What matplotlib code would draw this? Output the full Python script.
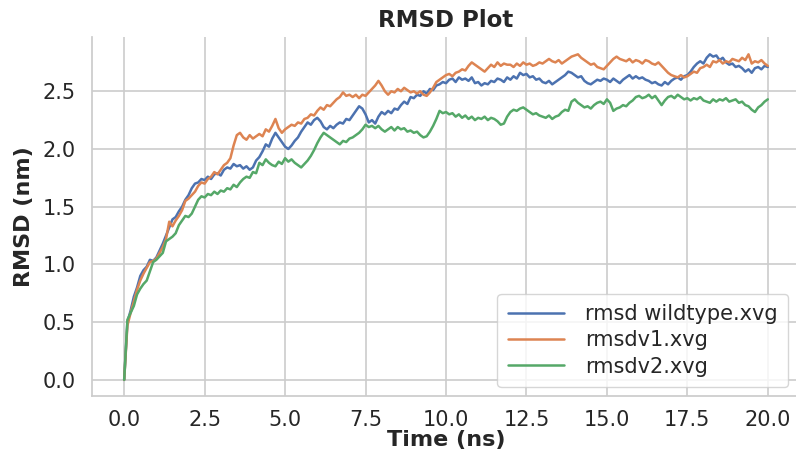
import numpy as np
import matplotlib
matplotlib.use("Agg")
import matplotlib.pyplot as plt
import seaborn as sns

time_ns = np.round(np.arange(201) * 0.1, 1)

rmsd_wildtype = [
    0.00, 0.50, 0.60, 0.72, 0.80, 0.90, 0.95, 0.98, 1.04, 1.03,
    1.06, 1.12, 1.18, 1.25, 1.32, 1.39, 1.41, 1.46, 1.50, 1.56,
    1.60, 1.66, 1.70, 1.71, 1.74, 1.73, 1.76, 1.74, 1.78, 1.79,
    1.77, 1.82, 1.84, 1.83, 1.87, 1.85, 1.86, 1.83, 1.85, 1.82,
    1.84, 1.90, 1.93, 1.98, 2.04, 2.02, 2.09, 2.14, 2.10, 2.06,
    2.02, 2.00, 2.03, 2.07, 2.10, 2.15, 2.19, 2.23, 2.21, 2.25,
    2.27, 2.24, 2.19, 2.17, 2.20, 2.18, 2.21, 2.23, 2.22, 2.26,
    2.25, 2.29, 2.33, 2.37, 2.35, 2.30, 2.23, 2.25, 2.22, 2.28,
    2.32, 2.30, 2.33, 2.31, 2.35, 2.34, 2.38, 2.41, 2.39, 2.45,
    2.44, 2.47, 2.46, 2.50, 2.48, 2.52, 2.51, 2.55, 2.56, 2.58,
    2.57, 2.60, 2.61, 2.58, 2.62, 2.60, 2.61, 2.59, 2.62, 2.57,
    2.58, 2.55, 2.57, 2.56, 2.59, 2.58, 2.61, 2.60, 2.58, 2.62,
    2.60, 2.63, 2.61, 2.66, 2.64, 2.65, 2.62, 2.63, 2.60, 2.61,
    2.58, 2.57, 2.59, 2.56, 2.58, 2.60, 2.62, 2.64, 2.67, 2.66,
    2.64, 2.62, 2.63, 2.59, 2.57, 2.56, 2.58, 2.60, 2.59, 2.61,
    2.60, 2.58, 2.61, 2.59, 2.57, 2.60, 2.62, 2.64, 2.61, 2.63,
    2.61, 2.62, 2.60, 2.59, 2.57, 2.58, 2.56, 2.55, 2.58, 2.56,
    2.59, 2.61, 2.62, 2.60, 2.63, 2.64, 2.67, 2.71, 2.74, 2.76,
    2.74, 2.79, 2.82, 2.80, 2.81, 2.77, 2.79, 2.75, 2.73, 2.74,
    2.71, 2.72, 2.70, 2.67, 2.69, 2.66, 2.70, 2.71, 2.69, 2.72,
    2.71,
]

rmsd_v1 = [
    0.00, 0.47, 0.58, 0.68, 0.78, 0.86, 0.92, 0.97, 1.02, 1.03,
    1.05, 1.10, 1.15, 1.22, 1.37, 1.33, 1.38, 1.42, 1.47, 1.55,
    1.57, 1.60, 1.63, 1.68, 1.71, 1.70, 1.74, 1.76, 1.80, 1.78,
    1.82, 1.86, 1.88, 1.92, 2.03, 2.12, 2.14, 2.10, 2.08, 2.12,
    2.09, 2.11, 2.13, 2.11, 2.17, 2.15, 2.20, 2.26, 2.18, 2.14,
    2.17, 2.19, 2.21, 2.20, 2.23, 2.22, 2.26, 2.27, 2.30, 2.29,
    2.33, 2.36, 2.34, 2.38, 2.37, 2.40, 2.43, 2.45, 2.49, 2.46,
    2.47, 2.45, 2.47, 2.44, 2.47, 2.46, 2.49, 2.52, 2.55, 2.59,
    2.55, 2.50, 2.47, 2.50, 2.49, 2.52, 2.50, 2.53, 2.51, 2.49,
    2.50, 2.48, 2.50, 2.47, 2.46, 2.49, 2.53, 2.58, 2.60, 2.62,
    2.64, 2.65, 2.63, 2.66, 2.67, 2.69, 2.68, 2.72, 2.75, 2.73,
    2.71, 2.69, 2.67, 2.70, 2.73, 2.71, 2.75, 2.72, 2.74, 2.73,
    2.73, 2.71, 2.74, 2.72, 2.75, 2.73, 2.74, 2.72, 2.73, 2.75,
    2.74, 2.76, 2.78, 2.76, 2.75, 2.77, 2.74, 2.76, 2.78, 2.80,
    2.81, 2.82, 2.79, 2.77, 2.75, 2.73, 2.74, 2.71, 2.70, 2.69,
    2.72, 2.75, 2.78, 2.80, 2.78, 2.77, 2.76, 2.78, 2.75, 2.77,
    2.76, 2.74, 2.77, 2.76, 2.74, 2.73, 2.75, 2.72, 2.69, 2.66,
    2.64, 2.63, 2.62, 2.64, 2.62, 2.63, 2.65, 2.67, 2.66, 2.70,
    2.71, 2.73, 2.71, 2.76, 2.75, 2.77, 2.74, 2.76, 2.75, 2.78,
    2.77, 2.76, 2.79, 2.77, 2.82, 2.74, 2.76, 2.75, 2.77, 2.74,
    2.72,
]

rmsd_v2 = [
    0.00, 0.52, 0.58, 0.64, 0.74, 0.79, 0.83, 0.86, 0.94, 1.02,
    1.04, 1.07, 1.10, 1.20, 1.22, 1.24, 1.27, 1.34, 1.38, 1.42,
    1.41, 1.44, 1.50, 1.56, 1.59, 1.58, 1.61, 1.60, 1.63, 1.61,
    1.64, 1.63, 1.66, 1.65, 1.69, 1.67, 1.71, 1.74, 1.76, 1.75,
    1.80, 1.79, 1.88, 1.86, 1.91, 1.88, 1.86, 1.85, 1.89, 1.87,
    1.92, 1.89, 1.91, 1.88, 1.86, 1.84, 1.87, 1.90, 1.94, 1.99,
    2.05, 2.10, 2.14, 2.12, 2.10, 2.08, 2.06, 2.04, 2.07, 2.06,
    2.09, 2.10, 2.12, 2.14, 2.17, 2.21, 2.19, 2.20, 2.18, 2.20,
    2.17, 2.15, 2.17, 2.19, 2.16, 2.19, 2.17, 2.18, 2.15, 2.16,
    2.14, 2.15, 2.12, 2.10, 2.11, 2.15, 2.20, 2.26, 2.33, 2.31,
    2.32, 2.30, 2.31, 2.28, 2.30, 2.27, 2.29, 2.26, 2.28, 2.25,
    2.27, 2.26, 2.28, 2.25, 2.27, 2.26, 2.24, 2.21, 2.22, 2.28,
    2.32, 2.34, 2.33, 2.35, 2.36, 2.34, 2.32, 2.30, 2.31, 2.29,
    2.28, 2.27, 2.29, 2.26, 2.28, 2.29, 2.32, 2.34, 2.33, 2.41,
    2.43, 2.40, 2.38, 2.36, 2.37, 2.35, 2.38, 2.40, 2.41, 2.39,
    2.43, 2.40, 2.33, 2.35, 2.36, 2.38, 2.37, 2.40, 2.42, 2.45,
    2.46, 2.44, 2.45, 2.47, 2.44, 2.46, 2.42, 2.38, 2.42, 2.45,
    2.46, 2.44, 2.47, 2.45, 2.43, 2.44, 2.42, 2.44, 2.43, 2.45,
    2.42, 2.41, 2.40, 2.43, 2.41, 2.43, 2.42, 2.44, 2.41, 2.42,
    2.43, 2.40, 2.41, 2.38, 2.37, 2.34, 2.32, 2.36, 2.38, 2.41,
    2.43,
]

series_labels = ["rmsd wildtype.xvg", "rmsdv1.xvg", "rmsdv2.xvg"]
x_ticks = [0.0, 2.5, 5.0, 7.5, 10.0, 12.5, 15.0, 17.5, 20.0]
y_ticks = [0.0, 0.5, 1.0, 1.5, 2.0, 2.5]

sns.set_theme(style="whitegrid")
plt.rcParams['font.family'] = ['DejaVu Sans']

colors = ["#4C72B0", "#DD8452", "#55A868"]

fig = plt.figure(figsize=(7.96, 4.49), dpi=100)
ax = fig.add_axes([92/796, 53/449, 708/796, 359/449])

for vals, lab, c in zip([rmsd_wildtype, rmsd_v1, rmsd_v2], series_labels, colors):
    ax.plot(time_ns, vals, color=c, lw=1.8, label=lab)

ax.set_xlim(-1, 21)
ax.set_ylim(-0.14, 2.97)
ax.set_xticks(x_ticks)
ax.set_yticks(y_ticks)
ax.tick_params(axis='x', labelsize=15, colors='#262626', pad=10, length=0)
ax.tick_params(axis='y', labelsize=15, colors='#262626', pad=12, length=0)
for s in ['top', 'right']:
    ax.spines[s].set_visible(False)
for s in ['left', 'bottom']:
    ax.spines[s].set_color('#cccccc')
    ax.spines[s].set_linewidth(1.25)
ax.grid(True, color='#cccccc', lw=1.2)

ax.set_title("RMSD Plot", fontsize=16.5, fontweight='bold', color='#262626', pad=7)
ax.set_ylabel("RMSD (nm)", fontsize=16, fontweight='bold', color='#262626', labelpad=6)
ax.set_xlabel("Time (ns)", fontsize=16, fontweight='bold', color='#262626', labelpad=0)

leg = ax.legend(loc='lower right', bbox_to_anchor=(0.983, 0.025), fontsize=15,
                frameon=True, handlelength=2.7, handletextpad=1.0,
                labelspacing=0.3, borderaxespad=0.0, borderpad=0.5)
for t in leg.get_texts():
    t.set_color('#262626')

fig.savefig("out.png", dpi=100)
